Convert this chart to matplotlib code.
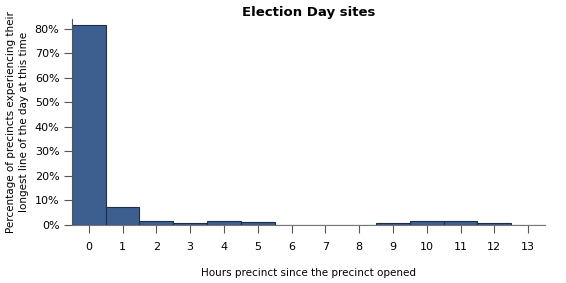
import matplotlib.pyplot as plt
from matplotlib.ticker import FuncFormatter

hours = list(range(14))
share = [81.6, 7.4, 1.5, 1.0, 1.5, 1.2, 0.0, 0.0, 0.0, 0.8, 1.5, 1.5, 0.7, 0.0]
yticks = [0, 10, 20, 30, 40, 50, 60, 70, 80]

fig = plt.figure(figsize=(5.66, 2.83), dpi=100)
ax = fig.add_axes([0.127, 0.205, 0.836, 0.728])

ax.bar(hours, share, width=1.0, color="#3d5f8f", edgecolor="#1e2e48", linewidth=0.8)

ax.set_xlim(-0.5, 13.5)
ax.set_ylim(0, 84)
ax.set_xticks(hours)
ax.set_yticks(yticks)
ax.yaxis.set_major_formatter(FuncFormatter(lambda v, p: f"{v:.0f}%"))

for s in ["top", "right"]:
    ax.spines[s].set_visible(False)
ax.spines["left"].set_color("#555555")
ax.spines["bottom"].set_color("#777777")
ax.spines["left"].set_linewidth(0.8)
ax.spines["bottom"].set_linewidth(0.8)

ax.tick_params(axis="x", length=6, width=0.8, color="#555555", pad=6, labelsize=8)
ax.tick_params(axis="y", length=6, width=0.8, color="#555555", pad=3, labelsize=8)

ax.set_title("Election Day sites", fontsize=9.5, fontweight="bold", pad=2)
ax.set_xlabel("Hours precinct since the precinct opened", fontsize=7.5, labelpad=12)
ax.set_ylabel("Percentage of precincts experiencing their\nlongest line of the day at this time",
              fontsize=7.5, labelpad=4, linespacing=1.35)

fig.savefig("out.png", dpi=100)
